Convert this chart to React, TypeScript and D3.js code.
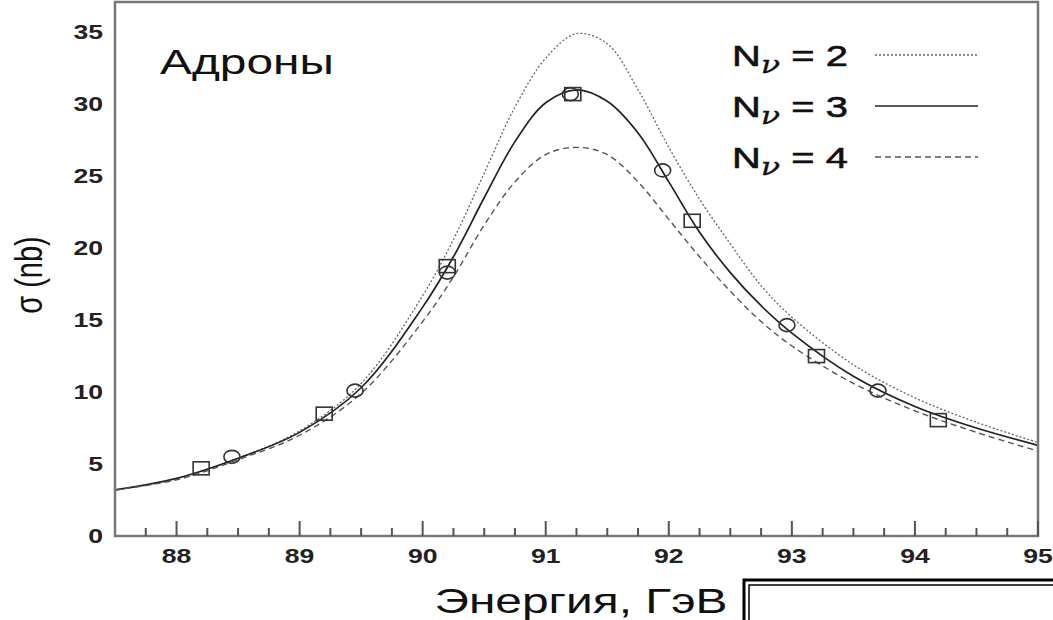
import React from "react";
import * as d3 from "d3";

const energies = [87.5, 88.0, 88.5, 89.0, 89.5, 90.0, 90.25, 90.5, 90.75, 91.0, 91.25, 91.5, 91.75, 92.0, 92.25, 92.5, 92.75, 93.0, 93.5, 94.0, 94.5, 95.0];
const sigmaN2 = [3.2, 4.0, 5.4, 7.3, 10.6, 16.7, 20.6, 25.2, 29.8, 33.2, 34.9, 34.2, 31.0, 27.0, 23.4, 20.3, 17.4, 15.2, 11.9, 9.6, 7.9, 6.5];
const sigmaN3 = [3.2, 4.0, 5.4, 7.2, 10.3, 15.9, 19.4, 23.5, 27.4, 30.1, 31.0, 30.2, 28.0, 24.6, 21.1, 18.3, 16.0, 14.1, 11.1, 9.0, 7.5, 6.3];
const sigmaN4 = [3.2, 3.9, 5.3, 7.0, 9.9, 14.9, 18.0, 21.6, 24.6, 26.5, 27.0, 26.5, 24.6, 22.0, 19.4, 17.0, 14.9, 13.2, 10.6, 8.7, 7.2, 5.9];

// measurements
const squareE = [88.2, 89.2, 90.2, 91.22, 92.19, 93.2, 94.19];
const squareS = [4.7, 8.5, 18.75, 30.7, 21.9, 12.5, 8.05];
const circleE = [88.45, 89.45, 90.2, 91.2, 91.95, 92.96, 93.7];
const circleS = [5.5, 10.1, 18.3, 30.7, 25.4, 14.65, 10.1];

const xTicks = [88, 89, 90, 91, 92, 93, 94, 95];
const yTicks = [0, 5, 10, 15, 20, 25, 30, 35];
const legendLabels = ["2", "3", "4"];

const W = 1053, H = 620;
const FONT = "'Liberation Sans', Arial, sans-serif";
const SX = 1.33; // the picture is stretched sideways

export default function App() {
  const x = d3.scaleLinear().domain([87.5, 95]).range([115, 1038]);
  const y = d3.scaleLinear().domain([0, 37.1]).range([536, 2]);

  const line = d3.line<number>()
    .x((d, i) => x(energies[i]))
    .y(d => y(d))
    .curve(d3.curveCatmullRom.alpha(0.5));

  const minor = d3.range(87.75, 95, 0.25).filter(v => Math.abs(v - Math.round(v)) > 0.01);

  const styles = [
    { data: sigmaN2, dash: "2,2", w: 1.3, c: "#666" },
    { data: sigmaN3, dash: "", w: 1.7, c: "#222" },
    { data: sigmaN4, dash: "6,4", w: 1.4, c: "#555" },
  ];

  return (
    <svg width={W} height={H} style={{ position: "absolute", left: 0, top: 0, background: "#fff" }} fontFamily={FONT}>
      <rect x={0} y={0} width={W} height={H} fill="#fff" />

      {/* curves */}
      {styles.map((s, i) => (
        <path key={i} d={line(s.data) || ""} fill="none" stroke={s.c} strokeWidth={s.w} strokeDasharray={s.dash} />
      ))}

      {/* markers */}
      {squareE.map((e, i) => (
        <rect key={"s" + i} x={x(e) - 8} y={y(squareS[i]) - 6.5} width={16} height={13}
          fill="none" stroke="#333" strokeWidth={1.6} />
      ))}
      {circleE.map((e, i) => (
        <ellipse key={"c" + i} cx={x(e)} cy={y(circleS[i])} rx={8} ry={6.5}
          fill="none" stroke="#333" strokeWidth={1.6} />
      ))}

      {/* frame */}
      <rect x={x(87.5)} y={y(37.1)} width={x(95) - x(87.5)} height={y(0) - y(37.1)}
        fill="none" stroke="#777" strokeWidth={2.5} />

      {/* x ticks */}
      {xTicks.map(t => (
        <line key={"xt" + t} x1={x(t)} x2={x(t)} y1={y(0)} y2={y(0) - 15} stroke="#555" strokeWidth={2} />
      ))}
      {minor.map(t => (
        <line key={"mt" + t} x1={x(t)} x2={x(t)} y1={y(0)} y2={y(0) - 8} stroke="#555" strokeWidth={2} />
      ))}
      {xTicks.map(t => (
        <text key={"xl" + t} transform={`translate(${x(t)},563) scale(${SX},1)`} textAnchor="middle"
          fontSize={20} fontWeight="bold" fill="#222">{t}</text>
      ))}

      {/* y tick labels */}
      {yTicks.map(t => (
        <text key={"yl" + t} transform={`translate(103,${y(t) + 7}) scale(${SX},1)`} textAnchor="end"
          fontSize={20} fontWeight="bold" fill="#222">{t}</text>
      ))}

      {/* axis titles */}
      <text transform={`translate(42,275) scale(${SX},1) rotate(-90)`} textAnchor="middle" fontSize={29} fill="#111">σ (nb)</text>
      <text transform={`translate(581,613) scale(${SX},1)`} textAnchor="middle" fontSize={36} fill="#111">Энергия, ГэВ</text>

      <text transform={`translate(160,74) scale(${SX},1)`} fontSize={36} fill="#111">Адроны</text>

      {/* legend */}
      {legendLabels.map((lab, i) => {
        const cy = 55 + i * 51;
        return (
          <g key={"lg" + i}>
            <text transform={`translate(732,${cy + 11}) scale(${SX},1)`} fontSize={30} fill="#111" stroke="#111" strokeWidth={0.6}>
              N<tspan fontFamily="'DejaVu Serif', serif" fontStyle="italic" fontSize={24} strokeWidth={0.3} dy={7}>ν</tspan>
              <tspan dy={-7}>{" = " + lab}</tspan>
            </text>
            <line x1={875} x2={978} y1={cy} y2={cy} stroke={styles[i].c} strokeWidth={styles[i].w} strokeDasharray={styles[i].dash} />
          </g>
        );
      })}

      {/* double box at the bottom right */}
      <path d={`M744,${H} V580 H${W}`} fill="none" stroke="#000" strokeWidth={3} />
      <path d={`M749,${H} V585 H${W}`} fill="none" stroke="#000" strokeWidth={1.5} />
    </svg>
  );
}
